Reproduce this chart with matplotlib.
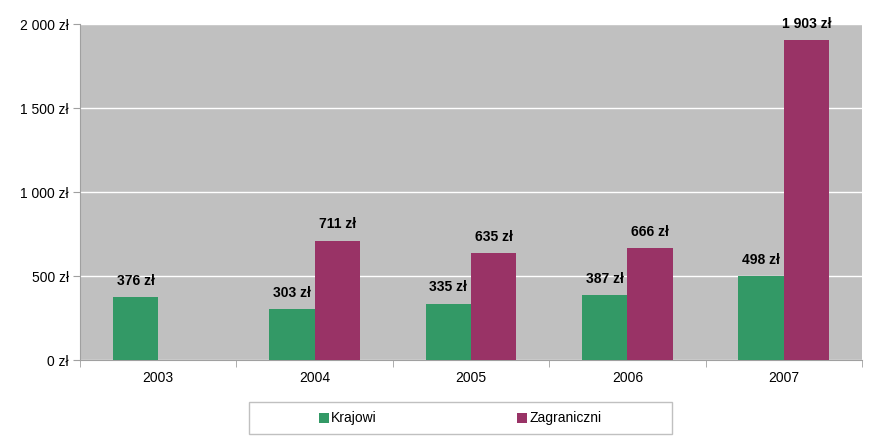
import matplotlib
matplotlib.use("Agg")
import matplotlib.pyplot as plt
from matplotlib.patches import Rectangle
import numpy as np

plt.rcParams['font.family'] = ['Liberation Sans', 'DejaVu Sans']

years = ["2003", "2004", "2005", "2006", "2007"]
krajowi = [376, 303, 335, 387, 498]
zagraniczni = [None, 711, 635, 666, 1903]
series_names = ["Krajowi", "Zagraniczni"]
yticks = [0, 500, 1000, 1500, 2000]
ytick_labels = ["0 zł", "500 zł", "1 000 zł", "1 500 zł", "2 000 zł"]

def fmt(v):
    return f"{v:,}".replace(",", " ") + " zł"

green = "#339966"
maroon = "#993366"

W, H = 881, 446
fig = plt.figure(figsize=(W/100, H/100), dpi=100)
ax = fig.add_axes([80/W, 1 - 360/H, (862-80)/W, (360-24)/H])
ax.set_facecolor("#c0c0c0")

x = np.arange(len(years))
w = 0.29
for i, v in enumerate(krajowi):
    ax.bar(x[i] - w/2, v, width=w, color=green, zorder=3)
    ax.text(x[i] - w/2, v + 55, fmt(v), ha="center", va="bottom", fontsize=10, fontweight="bold", zorder=4)
for i, v in enumerate(zagraniczni):
    if v is None:
        continue
    ax.bar(x[i] + w/2, v, width=w, color=maroon, zorder=3)
    ax.text(x[i] + w/2, v + 55, fmt(v), ha="center", va="bottom", fontsize=10, fontweight="bold", zorder=4, clip_on=False)

ax.set_xlim(-0.5, len(years) - 0.5)
ax.set_ylim(0, 2000)
ax.set_yticks(yticks)
ax.set_yticklabels(ytick_labels, fontsize=10)
ax.yaxis.grid(True, color="white", linewidth=1, zorder=1)
ax.set_axisbelow(True)

ax.set_xticks(x)
ax.set_xticklabels(years, fontsize=10)
ax.tick_params(axis="x", length=0, pad=8)
ax.set_xticks(np.arange(len(years) + 1) - 0.5, minor=True)
ax.tick_params(axis="x", which="minor", length=5, color="#a0a0a0")
ax.tick_params(axis="y", length=5, color="#a0a0a0", pad=3)

for s in ["top", "right"]:
    ax.spines[s].set_visible(False)
ax.spines["left"].set_color("#a0a0a0")
ax.spines["bottom"].set_color("#a0a0a0")

# legend (drawn manually in figure pixel coordinates)
def fx(px):
    return px / W
def fy(py):
    return 1 - py / H

fig.add_artist(Rectangle((fx(249), fy(434)), (672-249)/W, (434-402)/H,
                         transform=fig.transFigure, facecolor="white",
                         edgecolor="#c0c0c0", linewidth=1))
for name, col, mx in [(series_names[0], green, 319), (series_names[1], maroon, 517)]:
    fig.add_artist(Rectangle((fx(mx), fy(423)), 10/W, 10/H, transform=fig.transFigure,
                             facecolor=col, edgecolor="none"))
    fig.text(fx(mx + 12), fy(418), name, ha="left", va="center", fontsize=10)

fig.savefig("out.png", dpi=100)
